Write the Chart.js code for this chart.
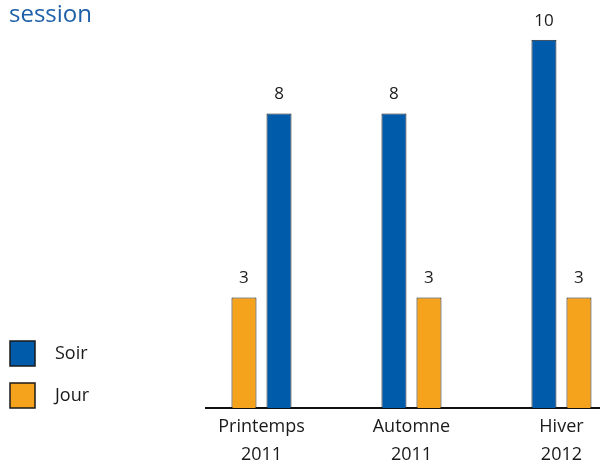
<!DOCTYPE html>
<html>
<head>
<meta charset="utf-8">
<script src="https://cdn.jsdelivr.net/npm/chart.js@4"></script>
<style>
  html, body { margin: 0; padding: 0; background: #fff; }
</style>
</head>
<body>
<canvas id="graficoSessions" width="600" height="462"></canvas>
<script>
const titre = 'session';
const categories = [['Printemps', '2011'], ['Automne', '2011'], ['Hiver', '2012']];
const soir = [8, 8, 10];
const jour = [3, 3, 3];
// sessions where the Jour bar comes before the Soir bar
const jourAvant = [true, false, false];
const series = ['Soir', 'Jour'];

const BLEU = '#005baa';
const ORANGE = '#f5a21d';
const TEXTE = '#1a1a1a';

Chart.defaults.font.family = '"Open Sans", sans-serif';

// valeurs au-dessus des barres
const etiquettesValeurs = {
    id: 'etiquettesValeurs',
    afterDatasetsDraw(chart) {
        const ctx = chart.ctx;
        ctx.save();
        ctx.font = '17px "Open Sans"';
        ctx.fillStyle = TEXTE;
        ctx.textAlign = 'center';
        ctx.textBaseline = 'middle';
        chart.data.datasets.forEach((ds, i) => {
            chart.getDatasetMeta(i).data.forEach((bar, j) => {
                const v = ds.data[j].y;
                if (v === null) return;
                ctx.fillText(v, bar.x, bar.y - 19);
            });
        });
        ctx.restore();
    }
};

// légende en bas à gauche
const legende = {
    id: 'legende',
    afterDraw(chart) {
        const ctx = chart.ctx;
        const couleurs = { Soir: BLEU, Jour: ORANGE };
        ctx.save();
        series.forEach((nom, i) => {
            const y = 341 + i * 42;
            ctx.fillStyle = couleurs[nom];
            ctx.fillRect(10, y, 25, 25);
            ctx.strokeStyle = TEXTE;
            ctx.lineWidth = 1.5;
            ctx.strokeRect(10, y, 25, 25);
            ctx.fillStyle = TEXTE;
            ctx.font = '18px "Open Sans"';
            ctx.textBaseline = 'middle';
            ctx.fillText(nom, 55, y + 13);
        });
        ctx.restore();
    }
};

const styleBarre = (couleur) => ({
    backgroundColor: couleur,
    borderColor: TEXTE,
    borderWidth: 1,
    categoryPercentage: 0.467,
    barPercentage: 0.714
});

new Chart(document.getElementById('graficoSessions'), {
    type: 'bar',
    data: {
        datasets: [
            { label: 'Jour', data: jour.map((v, i) => ({ x: i, y: jourAvant[i] ? v : null })), ...styleBarre(ORANGE) },
            { label: 'Soir', data: soir.map((v, i) => ({ x: i, y: v })), ...styleBarre(BLEU) },
            { label: 'Jour', data: jour.map((v, i) => ({ x: i, y: jourAvant[i] ? null : v })), ...styleBarre(ORANGE) }
        ]
    },
    options: {
        responsive: false,
        animation: false,
        skipNull: true,
        layout: { padding: { left: 9, top: 0, right: 0, bottom: 0 } },
        plugins: {
            legend: { display: false },
            tooltip: { enabled: false },
            title: {
                display: true,
                text: titre,
                align: 'start',
                color: '#1d5fa8',
                font: { size: 24, weight: 'normal' },
                padding: { top: 1, bottom: 10 }
            }
        },
        scales: {
            x: {
                type: 'linear',
                offset: false,
                min: -0.37,
                max: 2.257,
                afterBuildTicks: (scale) => { scale.ticks = categories.map((_, i) => ({ value: i })); },
                afterFit: (scale) => { scale.height = 54; },
                ticks: {
                    callback: (v) => categories[v],
                    color: TEXTE,
                    padding: 5,
                    maxRotation: 0,
                    autoSkip: false,
                    font: { size: 18, lineHeight: 1.54 }
                },
                grid: { display: false, drawTicks: false, offset: false },
                border: { display: true, color: '#111', width: 2 }
            },
            y: {
                min: 0,
                max: 10,
                afterFit: (scale) => { scale.width = 197; },
                ticks: { display: false },
                grid: { display: false, drawTicks: false },
                border: { display: false }
            }
        }
    },
    plugins: [etiquettesValeurs, legende]
});
</script>
</body>
</html>
